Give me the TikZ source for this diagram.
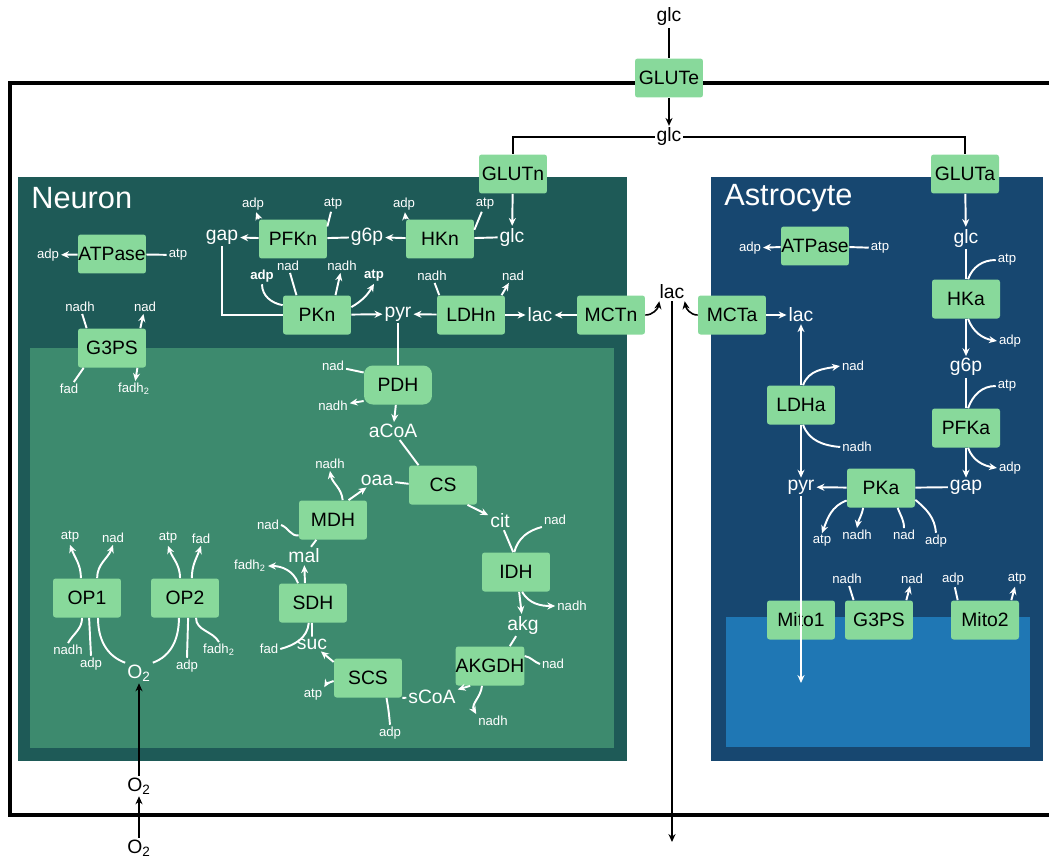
\documentclass[tikz,border=0pt]{standalone}
\usepackage{fontspec}
\setmainfont{Liberation Sans}
\usetikzlibrary{arrows.meta}

\definecolor{neuronbg}{HTML}{1E5A57}
\definecolor{neuronmito}{HTML}{3D8A6E}
\definecolor{astrobg}{HTML}{174770}
\definecolor{astromito}{HTML}{1F77B4}
\definecolor{enzgreen}{HTML}{88D99B}

\tikzset{
  enz/.style={fill=enzgreen, rounded corners=1.5pt, minimum width=1.36cm,
    minimum height=0.78cm, inner sep=0pt, font=\fontsize{11}{13}\selectfont},
  met/.style={text=white, inner sep=1pt, font=\fontsize{11}{13}\selectfont},
  bmet/.style={met, text=black},
  cof/.style={text=white, inner sep=1pt, font=\fontsize{7.5}{9}\selectfont},
  wline/.style={draw=white, line width=1.1pt},
  warrow/.style={wline, -{Stealth[length=4.5pt,width=4pt]}},
  bline/.style={draw=black, line width=0.9pt},
  barrow/.style={bline, -{Stealth[length=4.5pt,width=4pt]}},
  celltitle/.style={anchor=west, text=white, inner sep=0pt, font=\fontsize{17.5}{20}\selectfont}
}

\begin{document}
\begin{tikzpicture}[x=0.02cm, y=-0.02cm]
\useasboundingbox (0,0) rectangle (1049,859);
\clip (0,0) rectangle (1049,859);

% Compartments
\fill[neuronbg] (18,177) rectangle (627,761);
\fill[neuronmito] (30,348) rectangle (614,748);
\fill[astrobg] (711,177) rectangle (1043,761);
\fill[astromito] (726,617) rectangle (1030,747);
\draw[line width=2.3pt] (1060,83) -- (10,83) -- (10,815) -- (1060,815);
\node[celltitle] (ntitle) at (31,198) {Neuron};
\node[celltitle] (atitle) at (724,198) {Astrocyte};

% Extracellular space
\node[bmet] (eglc0) at (669,17) {glc};
\node[enz] (GLUTe) at (669,78) {GLUTe};
\node[bmet] (eglc) at (669,137) {glc};
\node[bmet, inner xsep=0pt] (elac) at (672,292) {lac};
\node[bmet] (eo2b) at (139,848) {O\textsubscript{2}};
\node[bmet] (eo2) at (139,786) {O\textsubscript{2}};
\coordinate (lacout) at (672,842);

% Transporters
\node[enz] (GLUTn) at (513,174) {GLUTn};
\node[enz] (GLUTa) at (965,174) {GLUTa};
\node[enz] (MCTn) at (611,315) {MCTn};
\node[enz] (MCTa) at (732,315) {MCTa};

% Neuron enzymes
\node[enz] (ATPn) at (112,254) {ATPase};
\node[enz] (G3PSn) at (112,348) {G3PS};
\node[enz] (PFKn) at (293,239) {PFKn};
\node[enz] (HKn) at (440,239) {HKn};
\node[enz] (PKn) at (317,315) {PKn};
\node[enz] (LDHn) at (471,315) {LDHn};
\node[enz, rounded corners=5pt] (PDH) at (398,385) {PDH};
\node[enz] (CS) at (443,485) {CS};
\node[enz] (MDH) at (333,520) {MDH};
\node[enz] (IDH) at (516,572) {IDH};
\node[enz] (SDH) at (313,603) {SDH};
\node[enz] (AKGDH) at (490,666) {AKGDH};
\node[enz] (SCS) at (368,678) {SCS};
\node[enz] (OP1) at (87,598) {OP1};
\node[enz] (OP2) at (185,598) {OP2};

% Neuron metabolites
\node[met] (nglc) at (512,237) {glc};
\node[met] (ng6p) at (367,237) {g6p};
\node[met] (ngap) at (222,237) {gap};
\node[met] (npyr) at (398,314) {pyr};
\node[met] (nlac) at (540,315) {lac};
\node[met] (acoa) at (393,431) {aCoA};
\node[met] (oaa) at (377,480) {oaa};
\node[met] (cit) at (500,521) {cit};
\node[met] (akg) at (523,625) {akg};
\node[met] (scoa) at (432,697) {sCoA};
\node[met] (suc) at (312,644) {suc};
\node[met] (mal) at (304,556) {mal};
\node[met] (no2) at (139,673) {O\textsubscript{2}};

% Neuron cofactors
\node[cof] (atpn-adp) at (48,255) {adp};
\node[cof] (atpn-atp) at (178,255) {atp};
\node[cof] (g3n-nadh) at (80,307) {nadh};
\node[cof] (g3n-nad) at (145,307) {nad};
\node[cof] (g3n-fad) at (69,389) {fad};
\node[cof] (g3n-fadh) at (134,389) {fadh\textsubscript{2}};
\node[cof] (pfkn-adp) at (253,204) {adp};
\node[cof] (pfkn-atp) at (333,204) {atp};
\node[cof] (hkn-adp) at (404,204) {adp};
\node[cof] (hkn-atp) at (485,204) {atp};
\node[cof, font=\fontsize{7.5}{9}\selectfont\bfseries] (pkn-adp) at (262,276) {adp};
\node[cof] (pkn-nad) at (288,266) {nad};
\node[cof] (pkn-nadh) at (342,266) {nadh};
\node[cof, font=\fontsize{7.5}{9}\selectfont\bfseries] (pkn-atp) at (374,276) {atp};
\node[cof] (ldhn-nadh) at (432,276) {nadh};
\node[cof] (ldhn-nad) at (513,276) {nad};
\node[cof] (pdh-nad) at (333,366) {nad};
\node[cof] (pdh-nadh) at (333,406) {nadh};
\node[cof] (mdh-nadh) at (330,464) {nadh};
\node[cof] (mdh-nad) at (268,525) {nad};
\node[cof] (sdh-fadh) at (250,566) {fadh\textsubscript{2}};
\node[cof] (sdh-fad) at (269,649) {fad};
\node[cof] (scs-atp) at (313,695) {atp};
\node[cof] (scs-adp) at (390,733) {adp};
\node[cof] (akgdh-nad) at (553,664) {nad};
\node[cof] (akgdh-nadh) at (493,721) {nadh};
\node[cof] (idh-nad) at (555,520) {nad};
\node[cof] (idh-nadh) at (572,606) {nadh};
\node[cof] (op1-atp) at (70,537) {atp};
\node[cof] (op1-nad) at (113,538) {nad};
\node[cof] (op1-nadh) at (68,650) {nadh};
\node[cof] (op1-adp) at (91,664) {adp};
\node[cof] (op2-atp) at (168,538) {atp};
\node[cof] (op2-fad) at (201,539) {fad};
\node[cof] (op2-adp) at (187,666) {adp};
\node[cof] (op2-fadh) at (219,650) {fadh\textsubscript{2}};

% Astrocyte enzymes
\node[enz] (ATPa) at (815,246) {ATPase};
\node[enz] (HKa) at (966,299) {HKa};
\node[enz] (LDHa) at (801,405) {LDHa};
\node[enz] (PFKa) at (966,428) {PFKa};
\node[enz] (PKa) at (881,488) {PKa};
\node[enz] (Mito1) at (801,620) {Mito1};
\node[enz] (G3PSa) at (879,620) {G3PS};
\node[enz] (Mito2) at (985,620) {Mito2};

% Astrocyte metabolites
\node[met] (aglc) at (966,238) {glc};
\node[met] (ag6p) at (966,367) {g6p};
\node[met] (agap) at (966,487) {gap};
\node[met] (apyr) at (801,487) {pyr};
\node[met] (alac) at (801,315) {lac};
\coordinate (amito) at (801,683);

% Astrocyte cofactors
\node[cof] (atpa-adp) at (750,248) {adp};
\node[cof] (atpa-atp) at (880,248) {atp};
\node[cof] (hka-atp) at (1007,260) {atp};
\node[cof] (hka-adp) at (1010,341) {adp};
\node[cof] (ldha-nad) at (853,366) {nad};
\node[cof] (ldha-nadh) at (857,447) {nadh};
\node[cof] (pfka-atp) at (1007,386) {atp};
\node[cof] (pfka-adp) at (1010,468) {adp};
\node[cof] (pka-atp) at (822,541) {atp};
\node[cof] (pka-nadh) at (857,535) {nadh};
\node[cof] (pka-nad) at (904,535) {nad};
\node[cof] (pka-adp) at (936,541) {adp};
\node[cof] (g3a-nadh) at (847,579) {nadh};
\node[cof] (g3a-nad) at (912,579) {nad};
\node[cof] (m2-adp) at (953,579) {adp};
\node[cof] (m2-atp) at (1017,579) {atp};

% Exchange between compartments
\draw[bline] (eglc0) -- (GLUTe);
\draw[barrow] (GLUTe) -- (eglc);
\draw[bline] (eglc) -| (GLUTn);
\draw[bline] (eglc) -| (GLUTa);
\draw[barrow] (MCTn.east) to[out=0, in=-100] (elac.south west);
\draw[barrow] (MCTa.west) to[out=180, in=-80] (elac.south east);
\draw[barrow] (elac) -- (lacout);
\draw[barrow] (eo2b) -- (eo2);
\draw[barrow] (eo2) -- (no2);

% Neuron glycolysis
\draw[warrow] (GLUTn) -- (nglc);
\draw[wline] (nglc) -- (HKn);
\draw[warrow] (HKn) -- (ng6p);
\draw[wline] (ng6p) -- (PFKn);
\draw[warrow] (PFKn) -- (ngap);
\draw[wline] (ngap) |- (PKn);
\draw[warrow] (PKn) -- (npyr);
\draw[warrow] (LDHn) -- (npyr);
\draw[warrow] (LDHn) -- (nlac);
\draw[warrow] (MCTn) -- (nlac);
\draw[warrow] (ATPn) -- (atpn-adp);
\draw[wline] (atpn-atp) -- (ATPn);
\draw[warrow] (PFKn.150) -- (pfkn-adp);
\draw[wline] (pfkn-atp) -- (PFKn.20);
\draw[warrow] (HKn.150) -- (hkn-adp);
\draw[wline] (hkn-atp) -- (HKn.15);
\draw[wline] (pkn-adp.south) to[out=-90, in=170] (PKn.164);
\draw[wline] (pkn-nad) -- (PKn.136);
\draw[warrow] (PKn.47) -- (pkn-nadh);
\draw[warrow] (PKn.13) to[out=30, in=-120] (pkn-atp.south);
\draw[wline] (ldhn-nadh) -- (LDHn.148);
\draw[warrow] (LDHn.33) -- (ldhn-nad);

% G3P shuttle
\draw[wline] (g3n-nadh) -- (G3PSn.142);
\draw[warrow] (G3PSn.35) -- (g3n-nad);
\draw[wline] (g3n-fad) -- (G3PSn.-145);
\draw[warrow] (G3PSn.-38) -- (g3n-fadh);

% TCA cycle
\draw[wline] (npyr) -- (PDH);
\draw[warrow] (PDH) -- (acoa);
\draw[wline] (pdh-nad) -- (PDH.160);
\draw[warrow] (PDH.205) -- (pdh-nadh);
\draw[wline] (acoa) -- (CS.141);
\draw[wline] (oaa) -- (CS.178);
\draw[warrow] (CS.-39) -- (cit);
\draw[wline] (cit) -- (IDH.98);
\draw[wline] (idh-nad.south west) to[out=195, in=75] (IDH.95);
\draw[warrow] (IDH.-81) -- (akg);
\draw[warrow] (IDH.-73) to[out=-60, in=180] (idh-nadh.west);
\draw[wline] (akg) -- (AKGDH.45);
\draw[wline] (akgdh-nad.west) to[out=160, in=-10] (AKGDH.16);
\draw[warrow] (AKGDH.-135) -- (scoa);
\draw[warrow] (AKGDH.-112) to[out=-95, in=120] (akgdh-nadh.north west);
\draw[wline] (scoa) -- (SCS.south east);
\draw[warrow] (SCS.155) -- (suc);
\draw[warrow] (SCS.185) to[out=200, in=60] (scs-atp.north east);
\draw[wline] (SCS.-47) to[out=-80, in=95] (scs-adp.north);
\draw[wline] (suc) -- (SDH.-93);
\draw[wline] (SDH.-102) to[out=-95, in=15] (sdh-fad.east);
\draw[warrow] (SDH.112) -- (mal);
\draw[warrow] (SDH.127) to[out=110, in=0] (sdh-fadh.east);
\draw[wline] (mal) -- (MDH.-130);
\draw[wline] (mdh-nad.east) to[out=-20, in=190] (MDH.204);
\draw[warrow] (MDH.52) -- (oaa);
\draw[warrow] (MDH.64) to[out=95, in=-80] (mdh-nadh.south);

% Oxidative phosphorylation
\draw[warrow] (OP1.107) to[out=90, in=-70] (op1-atp.south);
\draw[warrow] (OP1.63) to[out=90, in=-110] (op1-nad.south);
\draw[wline] (OP1.-104) to[out=-90, in=60] (op1-nadh.north);
\draw[wline] (OP1.-84) -- (op1-adp.north);
\draw[wline] (OP1.-61) to[out=-90, in=160] (no2.north west);
\draw[warrow] (OP2.104) to[out=90, in=-70] (op2-atp.south);
\draw[warrow] (OP2.71) to[out=90, in=-110] (op2-fad.south);
\draw[wline] (OP2.-107) to[out=-90, in=20] (no2.north east);
\draw[wline] (OP2.-81) -- (op2-adp.north);
\draw[wline] (OP2.-61) to[out=-90, in=120] (op2-fadh.north);

% Astrocyte
\draw[warrow] (GLUTa) -- (aglc);
\draw[warrow] (MCTa) -- (alac);
\draw[warrow] (ATPa) -- (atpa-adp);
\draw[wline] (atpa-atp) -- (ATPa);
\draw[wline] (aglc) -- (HKa);
\draw[wline] (hka-atp.west) to[out=180, in=70] (HKa.84);
\draw[warrow] (HKa) -- (ag6p);
\draw[warrow] (HKa.-84) to[out=-70, in=170] (hka-adp.west);
\draw[wline] (ag6p) -- (PFKa);
\draw[wline] (pfka-atp.west) to[out=180, in=70] (PFKa.84);
\draw[warrow] (PFKa) -- (agap);
\draw[warrow] (PFKa.-84) to[out=-70, in=170] (pfka-adp.west);
\draw[wline] (agap) -- (PKa);
\draw[warrow] (PKa) -- (apyr);
\draw[warrow] (PKa.200) to[out=200, in=70] (pka-atp.north);
\draw[warrow] (PKa.-132) to[out=-100, in=80] (pka-nadh.north);
\draw[wline] (PKa.-50) to[out=-70, in=90] (pka-nad.north);
\draw[wline] (PKa.-19) to[out=-40, in=95] (pka-adp.north);
\draw[warrow] (LDHa) -- (alac);
\draw[warrow] (LDHa) -- (apyr);
\draw[warrow] (LDHa.84) to[out=70, in=190] (ldha-nad.west);
\draw[wline] (LDHa.-84) to[out=-70, in=175] (ldha-nadh.west);
\draw[warrow] (apyr) -- (amito);
\draw[wline] (g3a-nadh) -- (G3PSa.142);
\draw[warrow] (G3PSa.36) -- (g3a-nad);
\draw[wline] (m2-adp) -- (Mito2.144);
\draw[warrow] (Mito2.37) -- (m2-atp);

\end{tikzpicture}
\end{document}
